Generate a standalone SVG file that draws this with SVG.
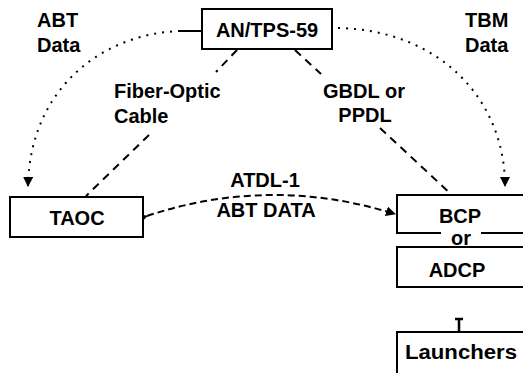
<svg xmlns="http://www.w3.org/2000/svg" width="523" height="373" viewBox="0 0 523 373">
<style>
  text { font-family: "Liberation Sans", Arial, sans-serif; font-weight: bold; font-size: 20px; fill: #000; }
  .box { fill: #fff; stroke: #000; stroke-width: 2; }
  .dot { fill: none; stroke: #000; stroke-width: 2; stroke-dasharray: 2 6; }
  .dash { fill: none; stroke: #000; stroke-width: 2; stroke-dasharray: 8 6; }
  .atdl { fill: none; stroke: #000; stroke-width: 2; stroke-dasharray: 7 4; }
</style>
<defs>
  <marker id="tri" viewBox="0 0 10 10" refX="9" refY="5" markerWidth="5" markerHeight="5" orient="auto" markerUnits="strokeWidth">
    <path d="M0,0 L10,5 L0,10 z" fill="#000"/>
  </marker>
</defs>
<rect width="523" height="373" fill="#fff"/>

<g id="connectors">
  <path class="dot" d="M180,31 C100,34 30,90 28,186" marker-end="url(#tri)"/>
  <line x1="180" y1="31" x2="202" y2="31" stroke="#000" stroke-width="2"/>
  <path class="dot" d="M338,28 C440,30 505,100 505,186" marker-end="url(#tri)"/>
  <line class="dash" x1="237" y1="50" x2="216" y2="72"/>
  <line class="dash" x1="149" y1="135" x2="86" y2="196"/>
  <line class="dash" x1="295" y1="50" x2="321" y2="74"/>
  <line class="dash" x1="380" y1="128" x2="452" y2="195"/>
  <path class="atdl" d="M147,216 Q270,175 395,214" marker-start="url(#tri)" marker-end="url(#tri)"/>
  <path d="M455,319 L463,319 M459,319 L459,332" stroke="#000" stroke-width="2.5" fill="none"/>
</g>

<g id="abt-label"><text x="37" y="27">ABT</text><text x="37" y="52">Data</text></g>
<g id="tbm-label"><text x="465" y="27">TBM</text><text x="465" y="52">Data</text></g>
<g id="fiber-label"><text x="114" y="98">Fiber-Optic</text><text x="114" y="123">Cable</text></g>
<g id="gbdl-label"><text x="364" y="98" text-anchor="middle">GBDL or</text><text x="365" y="122" text-anchor="middle">PPDL</text></g>
<g id="atdl-label"><text x="265" y="187" text-anchor="middle">ATDL-1</text><text x="266" y="217" text-anchor="middle">ABT DATA</text></g>

<g id="antps59">
  <rect class="box" x="202" y="9" width="130" height="40"/>
  <text x="267" y="37" text-anchor="middle">AN/TPS-59</text>
</g>
<g id="taoc">
  <rect class="box" x="10" y="197" width="133" height="40"/>
  <text x="77" y="225" text-anchor="middle">TAOC</text>
</g>
<g id="bcp">
  <rect class="box" x="397" y="195" width="140" height="38"/>
  <text x="460" y="223" text-anchor="middle">BCP</text>
</g>
<g id="adcp">
  <rect class="box" x="397" y="247" width="140" height="40"/>
  <text x="457" y="277" text-anchor="middle">ADCP</text>
</g>
<g id="or-label">
  <rect x="441" y="229" width="40" height="16" fill="#fff"/>
  <text x="461" y="245" text-anchor="middle">or</text>
</g>
<g id="launchers">
  <rect class="box" x="397" y="332" width="140" height="50"/>
  <text x="405" y="359" textLength="112" lengthAdjust="spacingAndGlyphs">Launchers</text>
</g>
</svg>
